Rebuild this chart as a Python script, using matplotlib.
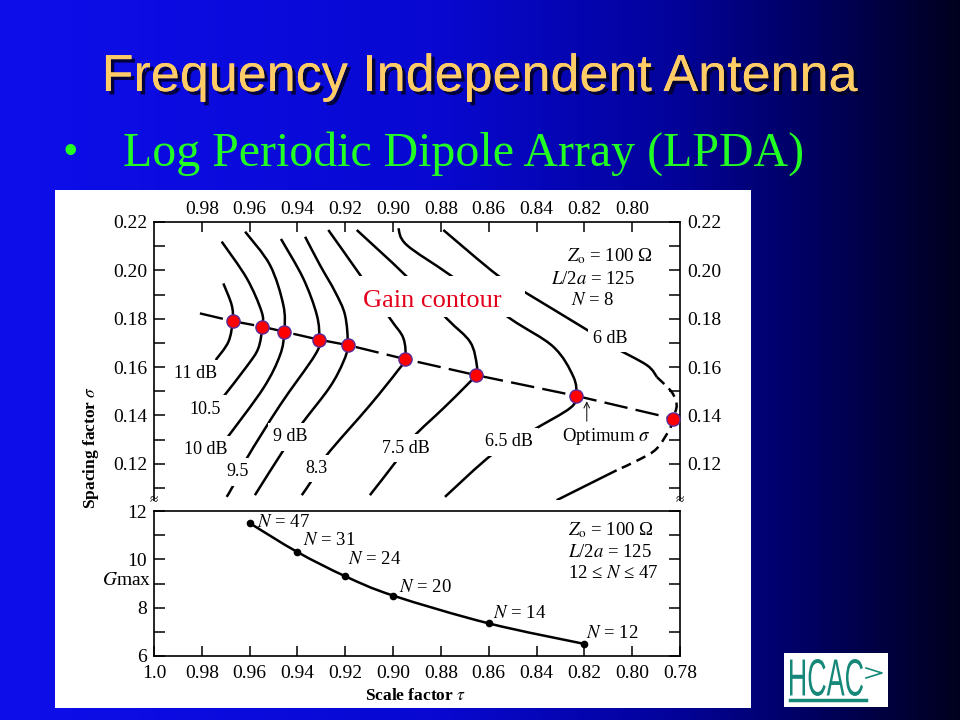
import numpy as np
import matplotlib
matplotlib.use('Agg')
import matplotlib.pyplot as plt
import matplotlib.patheffects as pe
from matplotlib.path import Path
from matplotlib.patches import PathPatch, Rectangle
from matplotlib.textpath import TextPath
from matplotlib.font_manager import FontProperties
from matplotlib.transforms import Affine2D

plt.rcParams['font.family'] = ['Liberation Serif', 'DejaVu Serif']
plt.rcParams['mathtext.fontset'] = 'stix'

# ---- gain contours (scale factor tau, spacing factor sigma) ----
tau_11 = [0.9710, 0.9675, 0.9671, 0.9689, 0.9742]
sig_11 = [0.1946, 0.1856, 0.1790, 0.1704, 0.1629]

tau_105 = [0.9717, 0.9612, 0.9550, 0.9547, 0.9564, 0.9611, 0.9710]
sig_105 = [0.2119, 0.1967, 0.1829, 0.1767, 0.1677, 0.1604, 0.1477]

tau_10 = [0.9619, 0.9515, 0.9459, 0.9455, 0.9473, 0.9543, 0.9696]
sig_10 = [0.2160, 0.2022, 0.1856, 0.1746, 0.1649, 0.1512, 0.1305]

tau_95 = [0.9469, 0.9376, 0.9319, 0.9309, 0.9327, 0.9473, 0.9612, 0.9668, 0.9696]
sig_95 = [0.2130, 0.1967, 0.1815, 0.1713, 0.1649, 0.1442, 0.1222, 0.1111, 0.1063]

tau_9 = [0.9368, 0.9306, 0.9243, 0.9201, 0.9190, 0.9208, 0.9264, 0.9376, 0.9445, 0.9578]
sig_9 = [0.2139, 0.2022, 0.1912, 0.1815, 0.1691, 0.1622, 0.1518, 0.1373, 0.1277, 0.1070]

tau_83 = [0.9271, 0.9138, 0.9013, 0.8957, 0.8950, 0.8979, 0.9097, 0.9278, 0.9334, 0.9382]
sig_83 = [0.2167, 0.1981, 0.1801, 0.1719, 0.1633, 0.1587, 0.1442, 0.1235, 0.1140, 0.1070]

tau_75 = [0.9152, 0.8950, 0.8776, 0.8678, 0.8650, 0.8655, 0.8692, 0.8790, 0.8915, 0.8978, 0.9097]
sig_75 = [0.2167, 0.1981, 0.1801, 0.1704, 0.1608, 0.1567, 0.1525, 0.1429, 0.1311, 0.1222, 0.1070]

tau_65 = [0.8978, 0.8943, 0.8762, 0.8511, 0.8330, 0.8246, 0.8235, 0.8260, 0.8415, 0.8581, 0.8783]
sig_65 = [0.2174, 0.2105, 0.1981, 0.1801, 0.1684, 0.1560, 0.1481, 0.1430, 0.1339, 0.1242, 0.1063]

tau_6 = [0.8790, 0.8565, 0.8441, 0.8176, 0.8079, 0.7939, 0.7896, 0.7835,
         0.7814, 0.7830, 0.7842, 0.7897, 0.7967, 0.8065, 0.8316]
sig_6 = [0.2167, 0.1981, 0.1905, 0.1746, 0.1684, 0.1608, 0.1558, 0.1497,
         0.1442, 0.1387, 0.1346, 0.1263, 0.1219, 0.1173, 0.1049]

# optimum sigma line (first point is where the dashed line starts)
tau_opt = [0.9808, 0.9671, 0.9547, 0.9455, 0.9309, 0.9190, 0.8950, 0.8655, 0.8235, 0.7830]
sig_opt = [0.1822, 0.1790, 0.1767, 0.1746, 0.1713, 0.1691, 0.1633, 0.1567, 0.1481, 0.1387]

# contour labels
lab_txt = ['11 dB', '10.5', '10 dB', '9.5', '9 dB', '8.3', '7.5 dB', '6.5 dB', '6 dB']
lab_tau = [0.9828, 0.9787, 0.9785, 0.9652, 0.9429, 0.9319, 0.8947, 0.8515, 0.8091]
lab_sig = [0.1573, 0.1426, 0.1258, 0.1166, 0.1312, 0.1180, 0.1264, 0.1291, 0.1718]

# ---- maximum gain vs tau ----
n_tau = [0.96, 0.94, 0.92, 0.90, 0.86, 0.82]
g_max = [11.5, 10.3, 9.3, 8.5, 7.35, 6.5]
n_elem = [47, 31, 24, 20, 14, 12]

top_ticks = [0.98, 0.96, 0.94, 0.92, 0.90, 0.88, 0.86, 0.84, 0.82, 0.80]
sig_ticks = [0.12, 0.14, 0.16, 0.18, 0.20, 0.22]
sig_minor = [0.11, 0.13, 0.15, 0.17, 0.19, 0.21]
low_ticks = [1.0, 0.98, 0.96, 0.94, 0.92, 0.90, 0.88, 0.86, 0.84, 0.82, 0.80, 0.78]
low_labels = ['1.0', '0.98', '0.96', '0.94', '0.92', '0.90', '0.88', '0.86',
              '0.84', '0.82', '0.80', '0.78']


def smooth_line(ax, xs, ys, **kw):
    # Catmull-Rom through the read points, drawn as a bezier path
    pts = np.column_stack([xs, ys])
    n = len(pts)
    verts = [pts[0]]
    codes = [Path.MOVETO]
    for i in range(n - 1):
        p0 = pts[max(i - 1, 0)]
        p1, p2 = pts[i], pts[i + 1]
        p3 = pts[min(i + 2, n - 1)]
        verts += [p1 + (p2 - p0) / 6, p2 - (p3 - p1) / 6, p2]
        codes += [Path.CURVE4] * 3
    ax.add_patch(PathPatch(Path(verts, codes), fill=False, capstyle='butt', **kw))


fig = plt.figure(figsize=(9.6, 7.2), dpi=100)

# slide background
bg = fig.add_axes([0, 0, 1, 1])
bg.set_axis_off()
gx = np.linspace(0, 1, 400)
stops = [0, 0.45, 0.7, 0.85, 1.0]
reds = [14, 8, 3, 0, 0]
greens = [14, 8, 3, 0, 0]
blues = [235, 210, 155, 95, 30]
grad = np.stack([np.interp(gx, stops, reds), np.interp(gx, stops, greens),
                 np.interp(gx, stops, blues)], axis=-1)[None, :, :] / 255
bg.imshow(grad, extent=[0, 1, 0, 1], aspect='auto')
bg.set_xlim(0, 1)
bg.set_ylim(0, 1)
bg.add_patch(Rectangle((55 / 960, 12 / 720), 696 / 960, 518 / 720, fc='white', ec='none'))

# logo (tall condensed letters, stretched text path in pixel units)
bg.add_patch(Rectangle((784 / 960, 13 / 720), 104 / 960, 54 / 720, fc='white', ec='none'))
logo = TextPath((0, 0), 'HCAC', size=1, prop=FontProperties(family='Liberation Sans'))
ext = logo.get_extents()
logo_tf = Affine2D().translate(-ext.x0, -ext.y0).scale(73 / ext.width, 37 / ext.height) \
    .translate(790, 720 - 696)
bg.add_patch(PathPatch(logo, transform=logo_tf, fc='#16887a', ec='none'))
bg.plot([866 / 960, 882 / 960, 866 / 960], [1 - 668 / 720, 1 - 673 / 720, 1 - 678 / 720],
        color='#16887a', lw=1.2)
bg.plot([790 / 960, 866 / 960], [1 - 700 / 720, 1 - 700 / 720], color='#16887a', lw=2.5)

fig.text(0.5, 1 - 91 / 720, 'Frequency Independent Antenna', ha='center', va='baseline',
         fontsize=37.5, color='#ffcc66', family='Liberation Sans',
         path_effects=[pe.withSimplePatchShadow(offset=(2.5, -2.5), shadow_rgbFace='#000020',
                                                alpha=0.85), pe.Normal()])
fig.text(70 / 960, 1 - 163 / 720, '\u2022', ha='center', va='baseline', fontsize=28,
         color='#22ff22', family='Liberation Sans')
fig.text(123 / 960, 1 - 166 / 720, 'Log Periodic Dipole Array (LPDA)', ha='left',
         va='baseline', fontsize=34.5, color='#22ff22')

# ---- upper panel: gain contours ----
ax1 = fig.add_axes([154 / 960, 220 / 720, 526 / 960, 278 / 720])
ax1.set_xlim(1.0, 0.78)
ax1.set_ylim(0.105, 0.22)
ax1.spines['bottom'].set_visible(False)
for s in ax1.spines.values():
    s.set_linewidth(1.2)
ax1.xaxis.tick_top()
ax1.set_xticks(top_ticks)
ax1.set_xticklabels([f'{v:.2f}' for v in top_ticks])
ax1.tick_params(axis='x', which='both', top=True, bottom=False, labeltop=True,
                labelbottom=False, direction='in', length=7.2, width=1.1, pad=3, labelsize=14)
ax1.set_yticks(sig_ticks)
ax1.set_yticklabels([f'{v:.2f}' for v in sig_ticks])
ax1.set_yticks(sig_minor, minor=True)
ax1.tick_params(axis='y', which='both', left=True, right=True, labelleft=True,
                labelright=True, direction='in', length=7.6, width=1.1, pad=5, labelsize=14)
ax1.set_ylabel(r'Spacing factor $\sigma$', fontsize=12.5, fontweight='bold')
ax1.yaxis.set_label_coords(-0.101, 0.19)

lw = 1.8
for t, s in [(tau_11, sig_11), (tau_105, sig_105), (tau_10, sig_10), (tau_95, sig_95),
             (tau_9, sig_9), (tau_83, sig_83), (tau_75, sig_75), (tau_65, sig_65)]:
    smooth_line(ax1, t, s, lw=lw, ec='black', zorder=2)
smooth_line(ax1, tau_6[:7], sig_6[:7], lw=lw, ec='black', zorder=2)
smooth_line(ax1, tau_6[6:14], sig_6[6:14], lw=lw, ec='black', zorder=2,
            linestyle=(0, (4, 2.5)))
smooth_line(ax1, tau_6[13:], sig_6[13:], lw=lw, ec='black', zorder=2)

ax1.plot(tau_opt, sig_opt, color='black', lw=1.7, dashes=(10, 3.5), zorder=3)
ax1.plot(tau_opt[1:], sig_opt[1:], 'o', ms=9.5, mfc='#ff0000', mec='#5a2d9a', mew=1.0,
         zorder=4, clip_on=False)

for txt, t, s in zip(lab_txt, lab_tau, lab_sig):
    ax1.text(t, s, txt, ha='center', va='center', fontsize=13, zorder=5,
             bbox=dict(boxstyle='square,pad=0.3', fc='white', ec='none'))

# white box behind the overlay label
ax1.add_patch(Rectangle((0.382, 0.658), 0.323, 0.147, transform=ax1.transAxes,
                        fc='white', ec='none', zorder=5))
ax1.text(0.529, 0.694, 'Gain contour', transform=ax1.transAxes, ha='center',
         va='baseline', fontsize=19, color='#e3001b', zorder=6)

ax1.text(0.866, 0.878, r'$Z_\mathrm{o}$ = 100 Ω', transform=ax1.transAxes,
         ha='center', va='center', fontsize=13.5)
ax1.text(0.834, 0.793, r'$L$/2$a$ = 125', transform=ax1.transAxes,
         ha='center', va='center', fontsize=13.5)
ax1.text(0.834, 0.716, r'$N$ = 8', transform=ax1.transAxes,
         ha='center', va='center', fontsize=13.5)

ax1.annotate('', xy=(0.8190, 0.1459), xytext=(0.8190, 0.1376),
             arrowprops=dict(arrowstyle='->', lw=0.8, color='#222222', shrinkA=0, shrinkB=0))
ax1.text(0.8109, 0.1314, r'Optimum $\sigma$', ha='center', va='center', fontsize=13.5)

# ---- lower panel: maximum gain ----
ax2 = fig.add_axes([154 / 960, 64 / 720, 526 / 960, 145 / 720])
ax2.set_xlim(1.0, 0.78)
ax2.set_ylim(6, 12)
for s in ax2.spines.values():
    s.set_linewidth(1.2)
ax2.set_xticks(low_ticks)
ax2.set_xticklabels(low_labels)
ax2.tick_params(axis='x', direction='in', length=7.2, width=1.1, pad=6.5, labelsize=14,
                top=False)
ax2.set_yticks([6, 8, 10, 12])
ax2.set_yticks([7, 9, 11], minor=True)
ax2.tick_params(axis='y', which='both', left=True, right=True, labelright=False,
                direction='in', length=7.6, width=1.1, pad=5, labelsize=14)
ax2.set_xlabel(r'Scale factor $\tau$', fontsize=12.5, fontweight='bold')
ax2.xaxis.set_label_coords(0.498, -0.22)
ax2.set_ylabel(r'$G$max', fontsize=14, rotation=0, ha='center', va='center')
ax2.yaxis.set_label_coords(-0.052, 0.52)

smooth_line(ax2, n_tau, g_max, lw=lw, ec='black', zorder=2)
ax2.plot(n_tau, g_max, 'o', ms=4.5, color='black', zorder=3)
n_offsets = [(7, 1), (6, 12), (3, 17), (6, 8), (4, 10), (2, 10)]
for t, g, n, off in zip(n_tau, g_max, n_elem, n_offsets):
    ax2.annotate(rf'$N$ = {n}', (t, g), xytext=off, textcoords='offset pixels',
                 ha='left', va='center', fontsize=13.5)

ax2.text(0.787, 0.866, r'$Z_\mathrm{o}$ = 100 Ω', transform=ax2.transAxes,
         ha='left', va='center', fontsize=13.5)
ax2.text(0.787, 0.714, r'$L$/2$a$ = 125', transform=ax2.transAxes,
         ha='left', va='center', fontsize=13.5)
ax2.text(0.787, 0.569, r'12 ≤ $N$ ≤ 47', transform=ax2.transAxes,
         ha='left', va='center', fontsize=13.5)

# axis break marks
fig.text(154 / 960, 1 - 501 / 720, '≈', ha='center', va='center', fontsize=11)
fig.text(680 / 960, 1 - 501 / 720, '≈', ha='center', va='center', fontsize=11)

fig.savefig('out.png', dpi=100)
